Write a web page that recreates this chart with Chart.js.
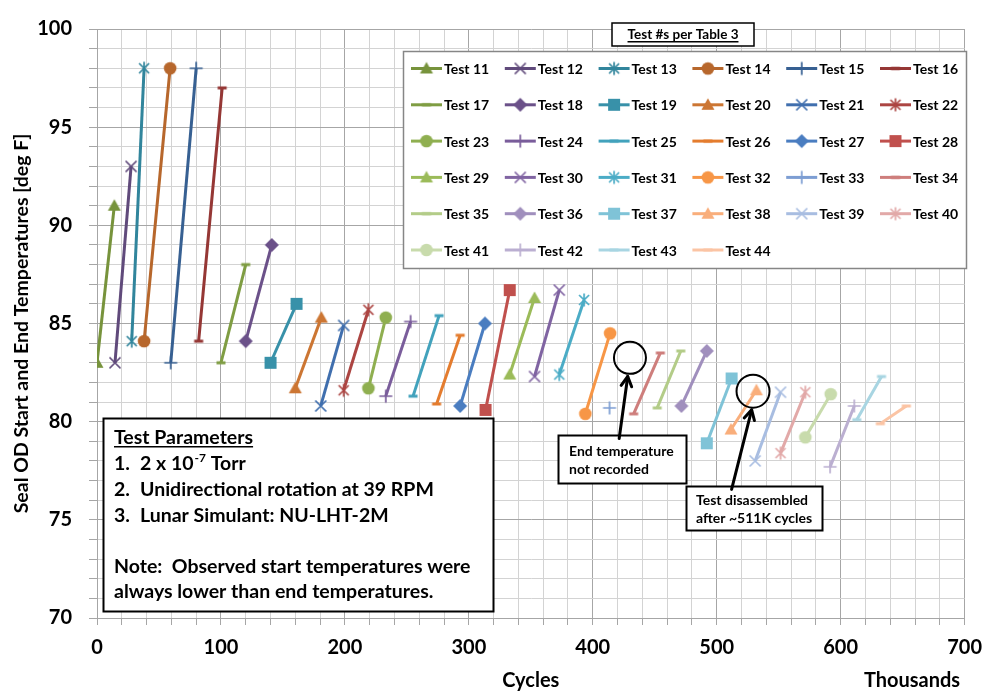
<!DOCTYPE html>
<html>
<head>
<meta charset="utf-8">
<script src="https://cdn.jsdelivr.net/npm/chart.js@4.4.1/dist/chart.umd.min.js"></script>
<style>
  html, body { margin: 0; padding: 0; background: #fff; }
  #wrap { width: 993px; height: 694px; }
</style>
</head>
<body>
<div id="wrap"><canvas id="sealChart" width="993" height="694"></canvas></div>
<script>
// test names and start / end points (cycles in thousands, temperature in deg F)
const tests = ['Test 11','Test 12','Test 13','Test 14','Test 15','Test 16',
  'Test 17','Test 18','Test 19','Test 20','Test 21','Test 22',
  'Test 23','Test 24','Test 25','Test 26','Test 27','Test 28',
  'Test 29','Test 30','Test 31','Test 32','Test 33','Test 34',
  'Test 35','Test 36','Test 37','Test 38','Test 39','Test 40',
  'Test 41','Test 42','Test 43','Test 44'];
const startCycles = [0, 14.5, 28, 38, 59.5, 82, 100, 120, 140, 160, 180.5, 199,
  219, 233, 255, 274, 293, 313.5, 333, 353, 373, 394, 413.5, 433,
  452, 471.5, 492, 511.5, 531, 551.5, 571.5, 591.5, 613, 632];
const startTemps = [83.0, 83.0, 84.1, 84.1, 83.0, 84.1, 83.0, 84.1, 83.0, 81.7, 80.8, 81.6,
  81.7, 81.3, 81.3, 80.9, 80.8, 80.6, 82.4, 82.3, 82.4, 80.4, 80.7, 80.4,
  80.7, 80.8, 78.9, 79.6, 78.0, 78.4, 79.2, 77.7, 80.1, 79.9];
const endCycles = [14, 27.5, 38, 59, 80, 101, 120, 141, 161, 181, 199, 219,
  233, 253, 276, 293, 313, 333, 353, 373, 393, 414, null, 454.5,
  471, 492, 512, 532, 551.5, 571.5, 592, 611, 633, 653];
const endTemps = [91.0, 93.0, 98.0, 98.0, 98.0, 97.0, 88.0, 89.0, 86.0, 85.3, 84.9, 85.7,
  85.3, 85.1, 85.4, 84.4, 85.0, 86.7, 86.3, 86.7, 86.2, 84.5, null, 83.5,
  83.6, 83.6, 82.2, 81.6, 81.5, 81.5, 81.4, 80.8, 82.3, 80.8];
const xLabels = [0, 100, 200, 300, 400, 500, 600, 700];
const yLabels = [70, 75, 80, 85, 90, 95, 100];

// series styling
const colors = ['#77933C','#604A7B','#31859C','#B7672C','#376092','#953735',
  '#7F9D43','#6B5189','#3891A9','#CC7633','#406FAE','#AC4542',
  '#8FAF50','#7A5D9B','#42A2BC','#E47C2E','#4A7DC0','#C0504D',
  '#9BBB59','#8064A2','#4BACC6','#F79646','#7D9ED3','#CE7E7C',
  '#B3CC88','#A08FBD','#7FC3D7','#F9AE7B','#A8BDE1','#E2A9A8',
  '#C8DBAC','#BBAFD1','#A8D5E2','#FBC4A4'];
const markerCycle = ['triangle','x','asterisk','circle','plus','dash','dash','diamond','square'];

const FONT = 'Lato, "Noto Sans", sans-serif';
Chart.defaults.font.family = FONT;

// small canvases used as point styles, so legend and plot share the same marker
function makeMarker(type, color) {
  const c = document.createElement('canvas');
  c.width = 16; c.height = 16;
  const g = c.getContext('2d');
  g.fillStyle = color; g.strokeStyle = color; g.lineWidth = 1.7;
  g.beginPath();
  if (type === 'triangle') {
    g.moveTo(8, 1.5); g.lineTo(14.5, 13); g.lineTo(1.5, 13); g.closePath(); g.fill();
  } else if (type === 'x') {
    g.moveTo(2.5, 2.5); g.lineTo(13.5, 13.5); g.moveTo(13.5, 2.5); g.lineTo(2.5, 13.5); g.stroke();
  } else if (type === 'asterisk') {
    g.moveTo(3, 3); g.lineTo(13, 13); g.moveTo(13, 3); g.lineTo(3, 13);
    g.moveTo(8, 1.5); g.lineTo(8, 14.5); g.stroke();
  } else if (type === 'circle') {
    g.arc(8, 8, 6.3, 0, Math.PI * 2); g.fill();
  } else if (type === 'plus') {
    g.moveTo(1.5, 8); g.lineTo(14.5, 8); g.moveTo(8, 1.5); g.lineTo(8, 14.5); g.stroke();
  } else if (type === 'dash') {
    g.fillRect(3.5, 6.5, 9, 3);
  } else if (type === 'diamond') {
    g.moveTo(8, 1); g.lineTo(15, 8); g.lineTo(8, 15); g.lineTo(1, 8); g.closePath(); g.fill();
  } else if (type === 'square') {
    g.fillRect(2, 2, 12, 12);
  }
  return c;
}

const markers = tests.map((t, i) => makeMarker(markerCycle[i % markerCycle.length], colors[i]));

const datasets = tests.map((name, i) => {
  const pts = [{ x: startCycles[i], y: startTemps[i] }];
  if (endCycles[i] !== null) pts.push({ x: endCycles[i], y: endTemps[i] });
  return {
    label: name,
    data: pts,
    showLine: true,
    borderColor: colors[i],
    backgroundColor: colors[i],
    borderWidth: 3,
    pointStyle: markers[i],
    pointRadius: 7,
    pointHoverRadius: 7
  };
});

// annotations: circles and arrows in data units, boxes in page pixels
const notes = {
  circle1: { x: 430, y: 83.25, r: 16 },
  circle2: { x: 529.3, y: 81.55, r: 16.5 },
  arrow1: { x1: 421.3, y1: 79.14, x2: 428.2, y2: 82.3 },
  arrow2: { x1: 512, y1: 76.55, x2: 528.2, y2: 80.6 }
};

function underlineText(ctx, text, x, y) {
  ctx.fillText(text, x, y);
  const w = ctx.measureText(text).width;
  const sx = ctx.textAlign === 'center' ? x - w / 2 : x;
  ctx.fillRect(sx, y + 2, w, 1.5);
}

function drawArrow(ctx, x1, y1, x2, y2) {
  ctx.save();
  ctx.strokeStyle = '#000'; ctx.lineWidth = 3; ctx.lineCap = 'round'; ctx.lineJoin = 'round';
  ctx.beginPath(); ctx.moveTo(x1, y1); ctx.lineTo(x2, y2); ctx.stroke();
  const ang = Math.atan2(y2 - y1, x2 - x1);
  const L = 11;
  ctx.beginPath();
  ctx.moveTo(x2 - L * Math.cos(ang - 0.5), y2 - L * Math.sin(ang - 0.5));
  ctx.lineTo(x2, y2);
  ctx.lineTo(x2 - L * Math.cos(ang + 0.5), y2 - L * Math.sin(ang + 0.5));
  ctx.stroke();
  ctx.restore();
}

const decor = {
  id: 'decor',
  afterDraw(chart) {
    const ctx = chart.ctx;
    const xs = chart.scales.x, ys = chart.scales.y;
    const area = chart.chartArea;
    ctx.save();

    // axis titles
    ctx.fillStyle = '#000';
    ctx.font = 'bold 19.5px ' + FONT;
    ctx.textAlign = 'center'; ctx.textBaseline = 'middle';
    ctx.save();
    ctx.translate(22, (area.top + area.bottom) / 2);
    ctx.rotate(-Math.PI / 2);
    ctx.fillText('Seal OD Start and End Temperatures [deg F]', 0, 0);
    ctx.restore();
    ctx.font = 'bold 20px ' + FONT;
    ctx.fillText('Cycles', (area.left + area.right) / 2, 681);
    ctx.fillText('Thousands', 912, 681);

    // legend title box
    ctx.fillStyle = '#fff';
    ctx.fillRect(612, 23, 142, 23);
    ctx.strokeStyle = '#000'; ctx.lineWidth = 1.5;
    ctx.strokeRect(612, 23, 142, 23);
    ctx.fillStyle = '#000';
    ctx.font = 'bold 13.5px ' + FONT;
    ctx.textAlign = 'center'; ctx.textBaseline = 'alphabetic';
    underlineText(ctx, 'Test #s per Table 3', 683, 39);

    // legend box
    ctx.fillStyle = '#fff';
    ctx.fillRect(403.5, 51.5, 563, 217);
    ctx.strokeStyle = '#868686'; ctx.lineWidth = 1.5;
    ctx.strokeRect(403.5, 51.5, 563, 217);
    ctx.font = 'bold 14px ' + FONT;
    ctx.textAlign = 'left'; ctx.textBaseline = 'middle';
    tests.forEach((name, i) => {
      const col = i % 6, row = Math.floor(i / 6);
      const lx = 411 + col * 93.8, ly = 68.5 + row * 36.3;
      ctx.strokeStyle = colors[i]; ctx.lineWidth = 3;
      ctx.beginPath(); ctx.moveTo(lx, ly); ctx.lineTo(lx + 31, ly); ctx.stroke();
      const m = markers[i];
      ctx.drawImage(m, lx + 15.5 - m.width / 2, ly - m.height / 2);
      ctx.fillStyle = '#000';
      ctx.fillText(name, lx + 33, ly + 1);
    });

    // test parameter box
    ctx.fillStyle = '#fff';
    ctx.fillRect(103.5, 418.5, 390, 193);
    ctx.strokeStyle = '#000'; ctx.lineWidth = 2;
    ctx.strokeRect(103.5, 418.5, 390, 193);
    ctx.fillStyle = '#000';
    ctx.textBaseline = 'alphabetic'; ctx.textAlign = 'left';
    const big = 'bold 19.5px ' + FONT;
    ctx.font = big;
    underlineText(ctx, 'Test Parameters', 114, 444);
    ctx.fillText('1.', 114, 470);
    ctx.fillText('2 x 10', 140, 470);
    const w = ctx.measureText('2 x 10').width;
    ctx.font = 'bold 12px ' + FONT;
    ctx.fillText('-7', 140 + w + 1, 462);
    const w2 = ctx.measureText('-7').width;
    ctx.font = big;
    ctx.fillText(' Torr', 140 + w + 1 + w2, 470);
    ctx.fillText('2.', 114, 496);
    ctx.fillText('Unidirectional rotation at 39 RPM', 140, 496);
    ctx.fillText('3.', 114, 522);
    ctx.fillText('Lunar Simulant: NU-LHT-2M', 140, 522);
    ctx.fillText('Note:  Observed start temperatures were', 114, 573);
    ctx.fillText('always lower than end temperatures.', 114, 598);

    // callout boxes
    ctx.fillStyle = '#fff';
    ctx.fillRect(558.5, 435.5, 128, 48);
    ctx.fillRect(686.5, 486.5, 136, 44);
    ctx.strokeStyle = '#000'; ctx.lineWidth = 2;
    ctx.strokeRect(558.5, 435.5, 128, 48);
    ctx.strokeRect(686.5, 486.5, 136, 44);
    ctx.fillStyle = '#000';
    ctx.font = 'bold 14px ' + FONT;
    ctx.fillText('End temperature', 569, 456);
    ctx.fillText('not recorded', 569, 474);
    ctx.fillText('Test disassembled', 696, 505);
    ctx.fillText('after ~511K cycles', 696, 523);

    // circles and arrows
    ctx.strokeStyle = '#000'; ctx.lineWidth = 2;
    [notes.circle1, notes.circle2].forEach(c => {
      ctx.beginPath();
      ctx.arc(xs.getPixelForValue(c.x), ys.getPixelForValue(c.y), c.r, 0, Math.PI * 2);
      ctx.stroke();
    });
    [notes.arrow1, notes.arrow2].forEach(a => {
      drawArrow(ctx, xs.getPixelForValue(a.x1), ys.getPixelForValue(a.y1),
        xs.getPixelForValue(a.x2), ys.getPixelForValue(a.y2));
    });
    ctx.restore();
  }
};

const gridColor = (major) => (c) => (c.tick && major(c.tick.value) ? '#a6a6a6' : '#d3d3d3');

const ctx = document.getElementById('sealChart').getContext('2d');
const sealChart = new Chart(ctx, {
  type: 'scatter',
  data: { datasets: datasets },
  options: {
    responsive: false,
    animation: false,
    devicePixelRatio: 1,
    layout: { padding: { left: 0, top: 18, right: 21, bottom: 0 } },
    plugins: {
      legend: { display: false },
      tooltip: { enabled: false }
    },
    scales: {
      x: {
        type: 'linear',
        min: 0,
        max: 700,
        ticks: {
          stepSize: 20,
          autoSkip: false,
          maxRotation: 0,
          padding: 11,
          color: '#000',
          font: { size: 20, weight: 'bold' },
          callback: (v) => (xLabels.includes(v) ? String(v) : '')
        },
        grid: {
          color: gridColor(v => v % 100 === 0),
          tickColor: '#a6a6a6',
          tickLength: 7
        },
        border: { color: '#a6a6a6' },
        afterFit: (s) => { s.height = 76; }
      },
      y: {
        min: 70,
        max: 100,
        ticks: {
          stepSize: 1,
          autoSkip: false,
          padding: 17,
          color: '#000',
          font: { size: 20, weight: 'bold' },
          callback: (v) => (yLabels.includes(v) ? String(v) : '')
        },
        grid: {
          color: gridColor(v => v % 5 === 0),
          tickColor: '#a6a6a6',
          tickLength: 8
        },
        border: { color: '#a6a6a6' },
        afterFit: (s) => { s.width = 97; }
      }
    }
  },
  plugins: [decor]
});
</script>
</body>
</html>
